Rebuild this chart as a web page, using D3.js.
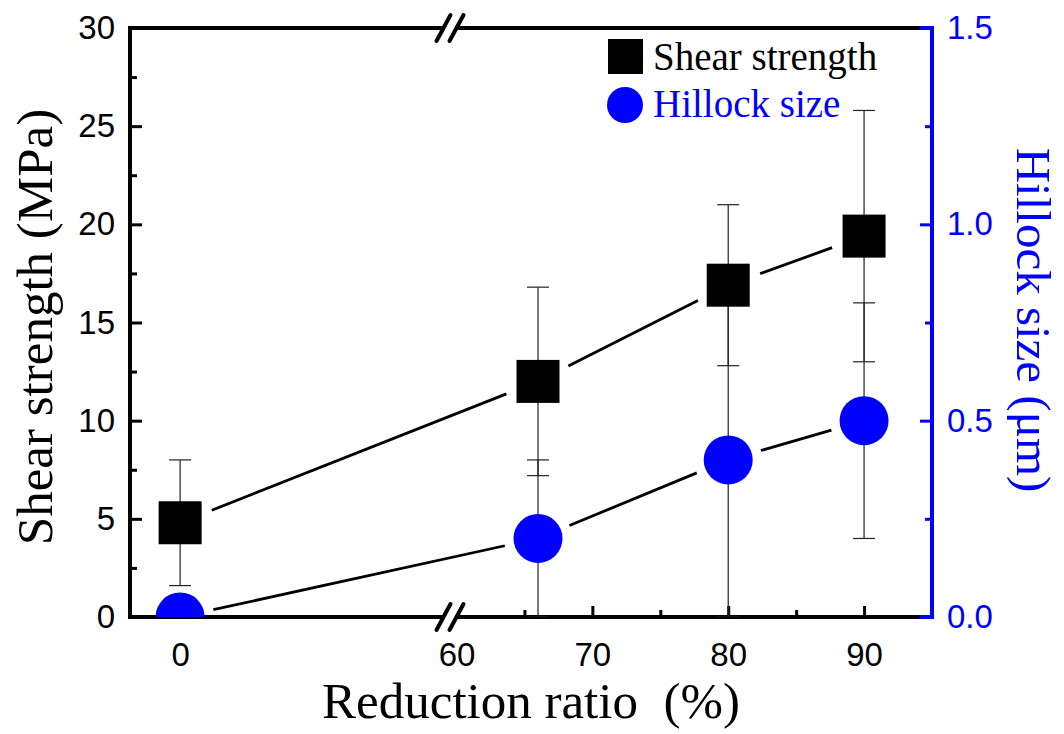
<!DOCTYPE html>
<html>
<head>
<meta charset="utf-8">
<script src="https://cdn.jsdelivr.net/npm/d3@7"></script>
<style>
  body { margin: 0; background: #fff; }
  .tick text { font-family: "Liberation Sans", Arial, sans-serif; font-size: 33px; }
  .lbl { font-family: "Liberation Serif", "Times New Roman", serif; }
</style>
</head>
<body>
<div id="chart"></div>
<script>
// reduction ratio (%) and measured values
const ratios = [0, 66, 80, 90];
const shear = [4.8, 12.0, 16.9, 19.4];        // MPa
const shearErr = [3.2, 4.8, 4.1, 6.4];
const hillock = [0, 0.2, 0.4, 0.5];           // um
const hillockErr = [0, 0.2, 0.4, 0.3];

const xLabels = [0, 60, 70, 80, 90];
const xMinor = [65, 75, 85];
const yTicks = [0, 5, 10, 15, 20, 25, 30];
const yMinor = [2.5, 7.5, 12.5, 17.5, 22.5, 27.5];
const y2Ticks = [0, 0.5, 1.0, 1.5];
const y2Minor = [0.25, 0.75, 1.25];

const W = 1064, H = 734;
const pLeft = 130, pRight = 932, pTop = 28, pBottom = 617;
const blue = "#0000ff";

const svg = d3.select("#chart").append("svg")
  .attr("width", W).attr("height", H);

// broken x axis: 0 side and 60-95 side
const x = d3.scaleLinear()
  .domain([-3.7, 20, 60, 95])
  .range([pLeft, 451, 456.5, pRight]);
const y = d3.scaleLinear().domain([0, 30]).range([pBottom, pTop]);
const y2 = d3.scaleLinear().domain([0, 1.5]).range([pBottom, pTop]);

svg.append("clipPath").attr("id", "plotclip")
  .append("rect")
  .attr("x", pLeft).attr("y", pTop)
  .attr("width", pRight - pLeft).attr("height", pBottom - pTop);

// -------------------------------------------------------------------
// axes
// -------------------------------------------------------------------
const gx = svg.append("g").attr("transform", "translate(0," + pBottom + ")")
  .call(d3.axisBottom(x).tickValues(xLabels).tickSize(-11).tickPadding(26)
    .tickFormat(d3.format("d")));
gx.selectAll(".tick line").attr("stroke-width", 3)
  .filter(d => d === 0 || d === 60).remove();
svg.append("g").attr("transform", "translate(0," + pBottom + ")")
  .call(d3.axisBottom(x).tickValues(xMinor).tickSize(-7).tickFormat(""))
  .selectAll(".tick line").attr("stroke-width", 3);

const gy = svg.append("g").attr("transform", "translate(" + pLeft + ",0)")
  .call(d3.axisLeft(y).tickValues(yTicks).tickSize(-12).tickPadding(15));
gy.selectAll(".tick line").attr("stroke-width", 3);
svg.append("g").attr("transform", "translate(" + pLeft + ",0)")
  .call(d3.axisLeft(y).tickValues(yMinor).tickSize(-7).tickFormat(""))
  .selectAll(".tick line").attr("stroke-width", 3);

const gy2 = svg.append("g").attr("transform", "translate(" + pRight + ",0)")
  .call(d3.axisRight(y2).tickValues(y2Ticks).tickSize(-12).tickPadding(15)
    .tickFormat(d3.format(".1f")));
gy2.selectAll(".tick line").attr("stroke", blue).attr("stroke-width", 3);
gy2.selectAll(".tick text").attr("fill", blue);
svg.append("g").attr("transform", "translate(" + pRight + ",0)")
  .call(d3.axisRight(y2).tickValues(y2Minor).tickSize(-7).tickFormat(""))
  .selectAll(".tick line").attr("stroke", blue).attr("stroke-width", 3);

svg.selectAll(".domain").remove();

// frame
const frame = svg.append("g").attr("stroke-width", 4).attr("fill", "none");
frame.append("path").attr("stroke", "#000")
  .attr("d", `M${pRight - 12},${pTop}H${pLeft}V${pBottom}H${pRight - 12}`);
frame.append("path").attr("stroke", blue)
  .attr("d", `M${pRight - 12},${pTop}H${pRight}V${pBottom}H${pRight - 12}`);

// break marks
const bx = 450;
[pTop, pBottom].forEach(by => {
  svg.append("line")
    .attr("x1", bx - 5).attr("x2", bx + 5).attr("y1", by).attr("y2", by)
    .attr("stroke", "#fff").attr("stroke-width", 6);
  [-6.5, 6.5].forEach(off => {
    svg.append("line")
      .attr("x1", bx + off - 7).attr("y1", by + 13)
      .attr("x2", bx + off + 7).attr("y2", by - 13)
      .attr("stroke", "#000").attr("stroke-width", 4)
      .attr("stroke-linecap", "round");
  });
});

// -------------------------------------------------------------------
// data
// -------------------------------------------------------------------
const shearPts = ratios.map((r, i) => ({ px: x(r), py: y(shear[i]),
  hi: y(shear[i] + shearErr[i]), lo: y(shear[i] - shearErr[i]) }));
const hillPts = ratios.map((r, i) => ({ px: x(r), py: y2(hillock[i]),
  hi: y2(hillock[i] + hillockErr[i]), lo: y2(hillock[i] - hillockErr[i]) }));

// connecting lines with gaps around markers
function drawLine(pts, gap) {
  for (let i = 0; i < pts.length - 1; i++) {
    const a = pts[i], b = pts[i + 1];
    const dx = b.px - a.px, dy = b.py - a.py;
    const len = Math.sqrt(dx * dx + dy * dy);
    const ux = dx / len, uy = dy / len;
    svg.append("line")
      .attr("x1", a.px + ux * gap).attr("y1", a.py + uy * gap)
      .attr("x2", b.px - ux * gap).attr("y2", b.py - uy * gap)
      .attr("stroke", "#000").attr("stroke-width", 2.8);
  }
}
drawLine(shearPts, 34);
drawLine(hillPts, 34);

// error bars
function drawErr(pts, clip) {
  const g = svg.append("g").attr("stroke", "#222").attr("stroke-width", 1.2);
  if (clip) g.attr("clip-path", "url(#plotclip)");
  pts.forEach(p => {
    if (p.hi === p.lo) return;
    g.append("line").attr("x1", p.px).attr("x2", p.px)
      .attr("y1", p.hi).attr("y2", p.lo);
    [p.hi, p.lo].forEach(cy => {
      g.append("line").attr("x1", p.px - 11).attr("x2", p.px + 11)
        .attr("y1", cy).attr("y2", cy);
    });
  });
}
drawErr(shearPts, false);
drawErr(hillPts, true);

const sq = 43;
svg.append("g").selectAll("rect").data(shearPts).join("rect")
  .attr("x", d => d.px - sq / 2).attr("y", d => d.py - sq / 2)
  .attr("width", sq).attr("height", sq).attr("fill", "#000");

svg.append("g").attr("clip-path", "url(#plotclip)")
  .selectAll("circle").data(hillPts).join("circle")
  .attr("cx", d => d.px).attr("cy", d => d.py)
  .attr("r", 24.5).attr("fill", blue);

// -------------------------------------------------------------------
// legend
// -------------------------------------------------------------------
svg.append("rect").attr("x", 608).attr("y", 39).attr("width", 35).attr("height", 35)
  .attr("fill", "#000");
svg.append("text").attr("class", "lbl").attr("x", 653).attr("y", 70)
  .style("font-size", "39px").text("Shear strength");
svg.append("circle").attr("cx", 625).attr("cy", 105).attr("r", 18).attr("fill", blue);
svg.append("text").attr("class", "lbl").attr("x", 653).attr("y", 117)
  .style("font-size", "39px").attr("fill", blue).text("Hillock size");

// -------------------------------------------------------------------
// axis titles
// -------------------------------------------------------------------
svg.append("text").attr("class", "lbl")
  .attr("transform", "translate(52,327) rotate(-90)")
  .attr("text-anchor", "middle").style("font-size", "51px")
  .text("Shear strength (MPa)");

svg.append("text").attr("class", "lbl")
  .attr("transform", "translate(1017,320) rotate(90)")
  .attr("text-anchor", "middle").style("font-size", "49px").attr("fill", blue)
  .text("Hillock size (μm)");

svg.append("text").attr("class", "lbl")
  .attr("x", 531).attr("y", 718)
  .attr("text-anchor", "middle").style("font-size", "51px")
  .style("white-space", "pre")
  .text("Reduction ratio  (%)");
</script>
</body>
</html>
